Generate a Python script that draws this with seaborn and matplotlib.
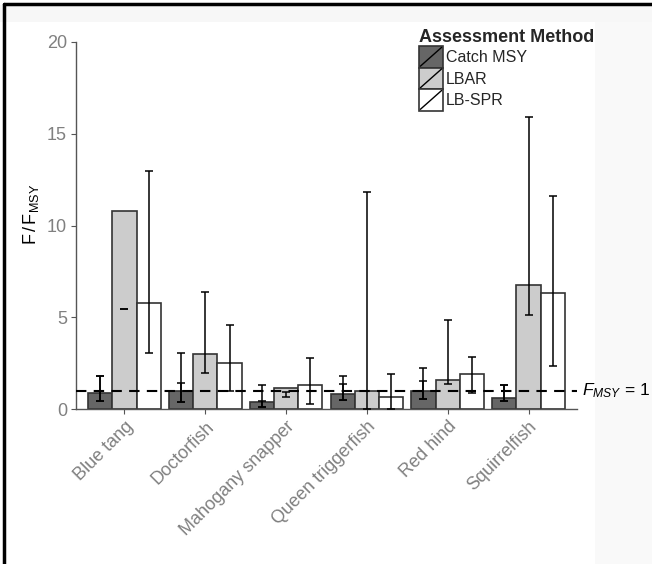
import matplotlib
matplotlib.use("Agg")
import matplotlib.pyplot as plt
import seaborn as sns
import pandas as pd
import numpy as np
from matplotlib.patches import Rectangle, Patch
from matplotlib.lines import Line2D
from matplotlib.legend_handler import HandlerBase

# ---- data ----
species = ["Blue tang", "Doctorfish", "Mahogany snapper", "Queen triggerfish", "Red hind", "Squirrelfish"]
methods = ["Catch MSY", "LBAR", "LB-SPR"]

catch_msy = [0.86, 1.00, 0.40, 0.82, 1.00, 0.62]
lbar = [10.77, 3.00, 1.15, 1.00, 1.58, 6.76]
lbspr = [5.76, 2.52, 1.29, 0.63, 1.89, 6.30]

catch_lo = [0.44, 0.38, 0.13, 0.49, 0.54, 0.42]
catch_hi = [1.81, 3.07, 1.33, 1.80, 2.22, 1.31]
catch_hi2 = [1.81, 1.42, 0.42, 1.38, 1.52, 1.31]

lbar_lo = [5.43, 1.94, 0.64, 0.00, 1.35, 5.12]
lbar_hi = [5.43, 6.36, 0.94, 11.81, 4.85, 15.90]

lbspr_lo = [3.07, 1.00, 0.27, 0.00, 0.85, 2.36]
lbspr_hi = [12.97, 4.58, 2.80, 1.92, 2.82, 11.59]

fmsy_ref = 1.0
yticks = [0, 5, 10, 15, 20]

colors = {"Catch MSY": "#666666", "LBAR": "#cccccc", "LB-SPR": "#ffffff"}

df = pd.DataFrame({
    "species": species * 3,
    "method": [m for m in methods for _ in species],
    "value": catch_msy + lbar + lbspr,
})

sns.set_theme(style="white")
plt.rcParams["font.family"] = ["Liberation Sans", "DejaVu Sans"]
plt.rcParams["mathtext.fontset"] = "custom"
plt.rcParams["mathtext.rm"] = "Liberation Sans"
plt.rcParams["mathtext.it"] = "Liberation Sans:italic"
plt.rcParams["mathtext.bf"] = "Liberation Sans:bold"

W, H = 652, 564
fig = plt.figure(figsize=(W / 100, H / 100), dpi=100)
fig.patch.set_facecolor("white")

# screenshot-like background pieces
fig.add_artist(Rectangle((595 / W, 0), 1 - 595 / W, 1 - 22 / H, transform=fig.transFigure,
                         facecolor="#f9f9f9", edgecolor="none", zorder=-5))
fig.add_artist(Rectangle((0, 1 - 22 / H), 1, 17 / H, transform=fig.transFigure,
                         facecolor="#f7f7f7", edgecolor="none", zorder=-5))
fig.add_artist(Line2D([4 / W, 4 / W], [0, 1 - 4 / H], transform=fig.transFigure, color="black", lw=2.5))
fig.add_artist(Line2D([4 / W, 1], [1 - 4 / H, 1 - 4 / H], transform=fig.transFigure, color="black", lw=2.5))

ax = fig.add_axes([76 / W, 1 - 409 / H, (577 - 76) / W, (409 - 42) / H])
ax.set_facecolor("white")

sns.barplot(data=df, x="species", y="value", hue="method", order=species, hue_order=methods,
            palette=colors, edgecolor="#333333", linewidth=1.2, width=0.9, gap=0,
            legend=False, ax=ax, zorder=2)

# error bars
err = {
    "Catch MSY": [(catch_lo, catch_hi), (catch_lo, catch_hi2)],
    "LBAR": [(lbar_lo, lbar_hi)],
    "LB-SPR": [(lbspr_lo, lbspr_hi)],
}
for cont, m in zip(ax.containers, methods):
    xs = [p.get_x() + p.get_width() / 2 for p in cont.patches]
    for lo, hi in err[m]:
        lo = np.array(lo); hi = np.array(hi)
        mid = (lo + hi) / 2
        ax.errorbar(xs, mid, yerr=[mid - lo, hi - mid], fmt="none", ecolor="black",
                    elinewidth=1.1, capsize=2.6, capthick=1.1, zorder=3)

ax.axhline(fmsy_ref, color="black", lw=1.5, ls=(0, (5, 3.5)), zorder=4)
ax.text(1.01, fmsy_ref, r"$F_{MSY}$ = 1", transform=ax.get_yaxis_transform(),
        ha="left", va="center", fontsize=12.5, color="black", clip_on=False)

ax.set_xlim(-0.6, len(species) - 0.4)
ax.set_ylim(0, 20)
ax.set_yticks(yticks)
ax.set_yticklabels([str(t) for t in yticks], fontsize=13, color="#808080")
ax.set_xlabel("")
ax.set_ylabel(r"$\mathrm{F\,/\,F_{MSY}}$", fontsize=13, color="black")
ax.yaxis.set_label_coords(-0.07, 0.53)
ax.set_xticks(range(len(species)))
ax.set_xticklabels(species, rotation=45, ha="right", rotation_mode="anchor",
                   fontsize=13, color="#808080")
ax.tick_params(axis="both", which="both", length=3.5, width=0.8, color="#555555",
               left=True, bottom=True, pad=3)
for s in ["top", "right"]:
    ax.spines[s].set_visible(False)
for s in ["left", "bottom"]:
    ax.spines[s].set_color("#555555")
    ax.spines[s].set_linewidth(1.0)


class HandlerBoxDiag(HandlerBase):
    def create_artists(self, legend, orig_handle, xdescent, ydescent, width, height, fontsize, trans):
        x0, y0 = -xdescent, -ydescent
        r = Rectangle((x0, y0), width, height, facecolor=orig_handle.get_facecolor(),
                      edgecolor="#333333", lw=1.2, transform=trans)
        l = Line2D([x0 + 1, x0 + width - 1], [y0 + 1, y0 + height - 1], color="black", lw=1.0,
                   transform=trans)
        return [r, l]


handles = [Patch(facecolor=colors[m]) for m in methods]
leg = fig.legend(handles, methods, loc="upper left", bbox_to_anchor=(419 / W, 1 - 29 / H),
                 frameon=False, title="Assessment Method", alignment="left",
                 handler_map={Patch: HandlerBoxDiag()}, fontsize=11.5,
                 handlelength=1.5, handleheight=1.7, labelspacing=0.0, handletextpad=0.2,
                 borderpad=0, borderaxespad=0)
leg.get_title().set_fontweight("bold")
leg.get_title().set_fontsize(13)

fig.savefig("out.png", dpi=100)
